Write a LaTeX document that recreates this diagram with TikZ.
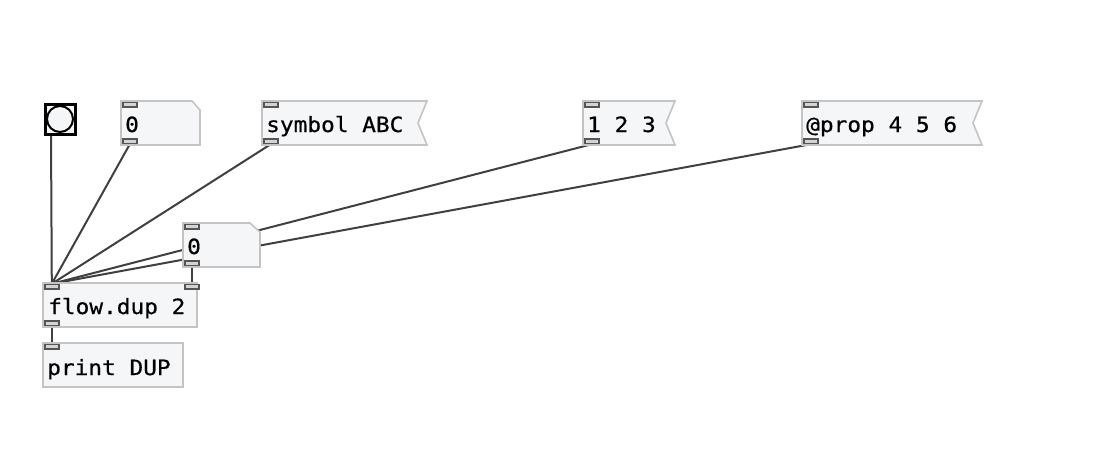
\documentclass[tikz,border=0pt]{standalone}
\usepackage{fontspec}
\newfontfamily\pdmono[FakeStretch=1.085,FakeBold=0.6]{DejaVu Sans Mono}
\definecolor{boxline}{HTML}{C4C4C4}
\definecolor{boxfill}{HTML}{F5F6F8}
\definecolor{portline}{HTML}{555555}
\definecolor{portfill}{HTML}{D4D4D4}
\definecolor{wire}{HTML}{404040}
\pgfdeclarelayer{bg}
\pgfsetlayers{bg,main}
\tikzset{
  pdbox/.style={draw=boxline, fill=boxfill, line width=1.6pt, line join=miter},
  port/.style={draw=portline, fill=portfill, line width=1.6pt, minimum width=14pt, minimum height=4.5pt, inner sep=0pt, anchor=north west},
  outport/.style={port, anchor=south west},
  label/.style={font=\pdmono\fontsize{21}{23}\selectfont, text=black, inner sep=0pt, anchor=base west},
  wireline/.style={draw=wire, line width=2pt},
}
\begin{document}
\begin{tikzpicture}[x=1pt,y=-1pt]
\useasboundingbox (0,0) rectangle (1117,448);
% bang
\node[draw=black, fill=boxfill, line width=3pt, minimum width=30pt, minimum height=30pt, inner sep=0pt, anchor=north west] (bang) at (43.5,102.5) {};
\node[draw=black, line width=2pt, circle, minimum size=26pt, inner sep=0pt] (bangc) at (bang.center) {};
\coordinate (bangout) at (51,133);
% float box 1
\draw[pdbox] (121,101) -- (192,101) -- (200,110) -- (200,145) -- (121,145) -- cycle;
\node[label] (f1) at (125,132) {0};
\node[port] (f1in) at (122,101.8) {};
\node[outport] (f1out) at (122,144.2) {};
% message symbol ABC
\draw[pdbox] (262,101) -- (427,101) -- (418,123) -- (427,145) -- (262,145) -- cycle;
\node[label] (m1) at (266,132) {symbol ABC};
\node[port] (m1in) at (263,101.8) {};
\node[outport] (m1out) at (263,144.2) {};
% message 1 2 3
\draw[pdbox] (583,101) -- (675,101) -- (666,123) -- (675,145) -- (583,145) -- cycle;
\node[label] (m2) at (587,132) {1 2 3};
\node[port] (m2in) at (584,101.8) {};
\node[outport] (m2out) at (584,144.2) {};
% message @prop 4 5 6
\draw[pdbox] (802,101) -- (982,101) -- (973,123) -- (982,145) -- (802,145) -- cycle;
\node[label] (m3) at (806,132) {@prop 4 5 6};
\node[port] (m3in) at (803,101.8) {};
\node[outport] (m3out) at (803,144.2) {};
% float box 2
\draw[pdbox] (183,223) -- (250,223) -- (260,232) -- (260,267) -- (183,267) -- cycle;
\node[label] (f2) at (187,254) {0};
\node[port] (f2in) at (184,223.8) {};
\node[outport] (f2out) at (184,266.2) {};
% flow.dup 2
\draw[pdbox] (43,283) rectangle (197,327);
\node[label] (dup) at (48,314) {flow.dup 2};
\node[port] (dupin) at (44,283.8) {};
\node[port] (dupin2) at (184,283.8) {};
\node[outport] (dupout) at (44,326.2) {};
% print DUP
\draw[pdbox] (43,343) rectangle (183,387);
\node[label] (pr) at (47,375) {print DUP};
\node[port] (prin) at (44,343.8) {};
% background and wires
\begin{pgfonlayer}{bg}
\fill[white] (0,0) rectangle (1117,448);
\draw[wireline] (bangout) -- (dupin.north);
\draw[wireline] (f1out.south) -- (dupin.north);
\draw[wireline] (m1out.south) -- (dupin.north);
\draw[wireline] (m2out.south) -- (dupin.north);
\draw[wireline] (m3out.south) -- (dupin.north);
\draw[wireline] (f2out.south) -- (dupin2.north);
\draw[wireline] (dupout.south) -- (prin.north);
\end{pgfonlayer}
\end{tikzpicture}
\end{document}
